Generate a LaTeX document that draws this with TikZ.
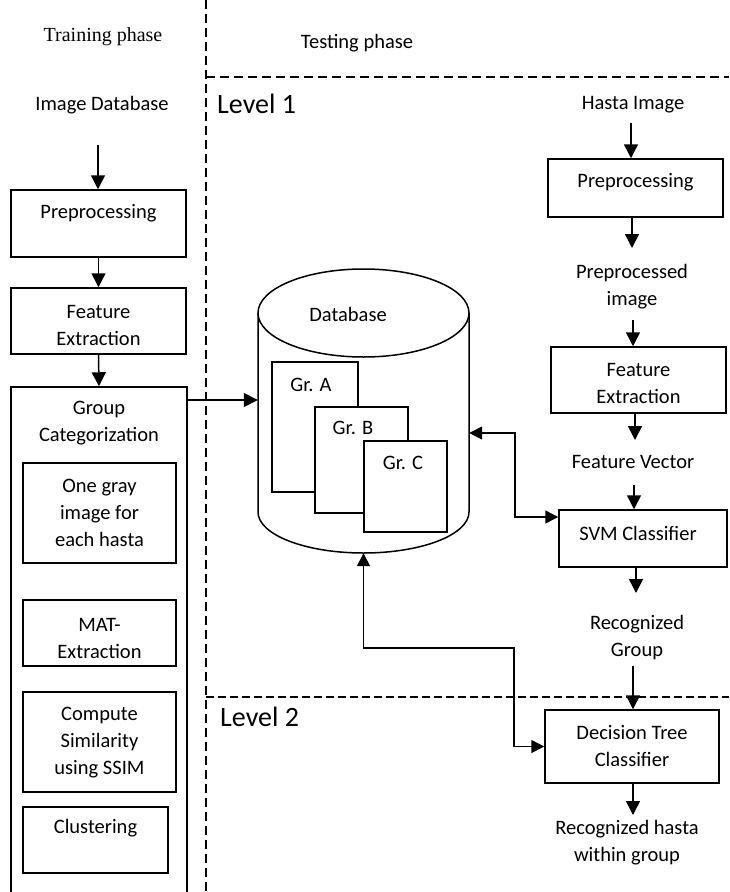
\documentclass[tikz,border=0pt]{standalone}
\usepackage{fontspec}
\setmainfont{Carlito}
\newfontfamily\timesfont{Liberation Serif}
\usetikzlibrary{arrows.meta,positioning}
\tikzset{
  flow-box/.style={draw=black, fill=white, line width=1.5pt, inner sep=0pt},
  flow-text/.style={font=\fontsize{20.5}{27}\selectfont, align=center, inner sep=0pt},
  flow-arrow/.style={-{Triangle[width=14pt,length=14pt]}, line width=1.5pt},
  flow-both/.style={{Triangle[width=13pt,length=13pt]}-{Triangle[width=13pt,length=13pt]}, line width=1.5pt},
  phase-line/.style={line width=2pt, dash pattern=on 9pt off 5pt},
  level-line/.style={line width=1.2pt, dash pattern=on 8pt off 4pt},
  level-text/.style={font=\fontsize{28}{32}\selectfont, anchor=west, inner sep=0pt}
}

\begin{document}
\begin{tikzpicture}[x=1pt, y=-1pt]
  \clip (0,0) rectangle (729,892);

  % Phase and level separators
  \draw[phase-line] (206,0) -- (206,892);
  \draw[phase-line] (206,77) -- (729,77);
  \draw[level-line] (206,697) -- (729,697);
  \node[flow-text, font=\timesfont\fontsize{20}{24}\selectfont] (train) at (103,37) {Training phase};
  \node[flow-text] (test) at (357,43) {Testing phase};
  \node[level-text] (lvl1) at (217,103.5) {Level 1};
  \node[level-text] (lvl2) at (220,716.5) {Level 2};

  % Training phase (left column)
  \node[flow-text] (imgdb) at (102,105) {Image Database};
  \coordinate (imgdb-out) at (98,145);
  \node[flow-box, minimum width=175, minimum height=67] (pre1) at (98.5,223.5) {};
  \node[flow-text] (pre1-t) at (98.5,213) {Preprocessing};
  \node[flow-box, minimum width=175, minimum height=66] (fe1) at (98.5,321) {};
  \node[flow-text] (fe1-t) at (98.5,325) {Feature\\Extraction};
  \node[flow-box, minimum width=176, minimum height=530] (gc) at (99,652) {};
  \node[flow-text] (gc-t) at (99,423.5) {Group\\Categorization};
  \draw[flow-arrow] (imgdb-out) -- (imgdb-out |- pre1.north);
  \draw[flow-arrow] (pre1.south) -- (fe1.north);
  \draw[flow-arrow] (fe1.south) -- (gc.north);

  % Steps inside group categorization
  \node[flow-box, minimum width=153, minimum height=100] (gray) at (99.5,513) {};
  \node[flow-text] (gray-t) at (99.5,513) {One gray\\image for\\each hasta};
  \node[flow-box, minimum width=153, minimum height=66] (mat) at (99.5,633) {};
  \node[flow-text] (mat-t) at (99.5,638) {MAT-\\Extraction};
  \node[flow-box, minimum width=153, minimum height=100] (ssim) at (99.5,742) {};
  \node[flow-text] (ssim-t) at (99.5,742.5) {Compute\\Similarity\\using SSIM};
  \node[flow-box, minimum width=145, minimum height=66] (clus) at (95.5,840) {};
  \node[flow-text] (clus-t) at (95.5,828) {Clustering};

  % Database cylinder
  \node[minimum width=211, minimum height=285, inner sep=0pt] (db) at (363.5,410.5) {};
  \draw[line width=1.5pt] (258,313) -- (258,512) arc[start angle=180, end angle=360, x radius=105.5pt, y radius=41pt] -- (469,313);
  \draw[line width=1.5pt] (363.5,313) ellipse [x radius=105.5pt, y radius=44pt];
  \node[flow-text] (db-t) at (348,314) {Database};
  \node[flow-box, minimum width=86, minimum height=130] (grA) at (315,427) {};
  \node[flow-text] (grA-t) at (311,385) {Gr. A};
  \node[flow-box, minimum width=93, minimum height=106] (grB) at (361.5,460) {};
  \node[flow-text] (grB-t) at (353,428) {Gr. B};
  \node[flow-box, minimum width=83, minimum height=91] (grC) at (405.5,486.5) {};
  \node[flow-text] (grC-t) at (403,463) {Gr. C};
  \coordinate (gc-out) at (187,400);
  \draw[flow-arrow] (gc-out) -- (gc-out -| db.west);

  % Testing phase (right column)
  \node[flow-text] (hasta) at (633,105) {Hasta Image};
  \coordinate (hasta-out) at (631,123);
  \node[flow-box, minimum width=175, minimum height=58] (pre2) at (635.5,188) {};
  \node[flow-text] (pre2-t) at (635.5,182) {Preprocessing};
  \draw[flow-arrow] (hasta-out) -- (hasta-out |- pre2.north);
  \coordinate (pre2-in) at (632,248);
  \draw[flow-arrow] (pre2-in |- pre2.south) -- (pre2-in);
  \node[flow-text] (ppimg) at (632,286.5) {Preprocessed\\image};
  \coordinate (ppimg-out) at (633,320);
  \node[flow-box, minimum width=175, minimum height=66] (fe2) at (638.5,380) {};
  \node[flow-text] (fe2-t) at (638.5,383) {Feature\\Extraction};
  \draw[flow-arrow] (ppimg-out) -- (ppimg-out |- fe2.north);
  \coordinate (fe2-in) at (635,440);
  \draw[flow-arrow] (fe2-in |- fe2.south) -- (fe2-in);
  \node[flow-text] (fvec) at (633,462) {Feature Vector};
  \coordinate (fvec-out) at (634,485);
  \node[flow-box, minimum width=168, minimum height=57] (svm) at (643,538.5) {};
  \node[flow-text] (svm-t) at (638,533) {SVM Classifier};
  \draw[flow-arrow] (fvec-out) -- (fvec-out |- svm.north);
  \coordinate (svm-in) at (636,593);
  \draw[flow-arrow] (svm-in |- svm.south) -- (svm-in);
  \node[flow-text] (recgr) at (637,637.5) {Recognized\\Group};
  \coordinate (recgr-out) at (633,666);
  \node[flow-box, minimum width=174, minimum height=73] (dt) at (632,746.5) {};
  \node[flow-text] (dt-t) at (632,746.5) {Decision Tree\\Classifier};
  \draw[flow-arrow] (recgr-out) -- (recgr-out |- dt.north);
  \coordinate (dt-in) at (633,815);
  \draw[flow-arrow] (dt-in |- dt.south) -- (dt-in);
  \node[flow-text] (rechasta) at (627,842.5) {Recognized hasta\\within group};

  % Links to the database
  \draw[flow-both] ([yshift=-22.5pt]db.east) -- ++(46,0) |- ([yshift=21.5pt]svm.west);
  \draw[flow-both] (db.south) |- (514,648) |- (dt.west);
\end{tikzpicture}
\end{document}
